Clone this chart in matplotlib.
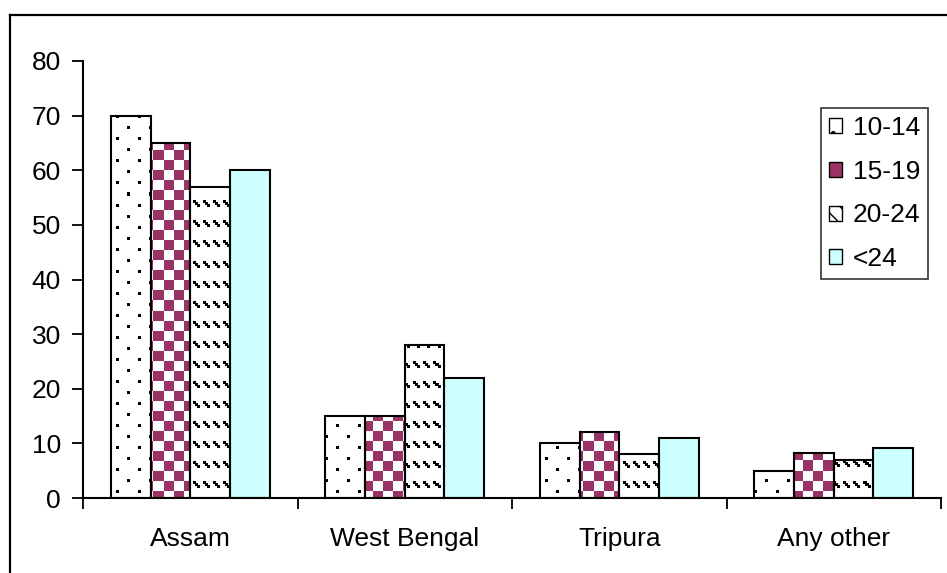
import matplotlib.pyplot as plt
import numpy as np
import matplotlib.colors as mc
from matplotlib.patches import Patch
from matplotlib.lines import Line2D

plt.rcParams['font.family'] = ['Liberation Sans', 'DejaVu Sans']

# dados
estados = ['Assam', 'West Bengal', 'Tripura', 'Any other']
faixas = ['10-14', '15-19', '20-24', '<24']
v_10_14 = [70, 15, 10, 5]
v_15_19 = [65, 15, 12, 8.3]
v_20_24 = [57, 28, 8, 7]
v_menor24 = [60, 22, 11, 9.2]
yticks = [0, 10, 20, 30, 40, 50, 60, 70, 80]

MAGENTA = '#993366'
CIANO = '#ccffff'

fig = plt.figure(figsize=(9.47, 5.73), dpi=100)
left, bottom, right, top = 83/947, 1-498/573, 941/947, 1-61/573
ax = fig.add_axes([left, bottom, right-left, top-bottom])

# tamanho do eixo em pixels, para as texturas
W = int(round((right-left)*947))
H = int(round((top-bottom)*573))

def textura(tile):
    reps = (H // tile.shape[0] + 1, W // tile.shape[1] + 1, 1)
    return np.tile(tile, reps)[:H, :W]

preto = np.array(mc.to_rgba('black'))
# pontos
t_pontos = np.zeros((22, 22, 4))
t_pontos[0:3, 0:3] = preto
t_pontos[11:14, 11:14] = preto
# xadrez
t_xadrez = np.zeros((20, 20, 4))
for r in range(20):
    for c in range(20):
        cor = MAGENTA if ((r//10) + (c//10)) % 2 == 0 else 'white'
        t_xadrez[r, c] = mc.to_rgba(cor)
# tracos diagonais
t_tracos = np.zeros((20, 10, 4))
for k in range(3):
    t_tracos[2*k:2*k+3, 2*k:2*k+3] = preto

x = np.arange(len(estados))
w = 0.185
series = [v_10_14, v_15_19, v_20_24, v_menor24]
cores = ['white', MAGENTA, 'white', CIANO]
texturas = [t_pontos, t_xadrez, t_tracos, None]

for i, (vals, cor, tex) in enumerate(zip(series, cores, texturas)):
    pos = x + (i - 1.5)*w
    barras = ax.bar(pos, vals, w, color=cor, edgecolor='none', zorder=2)
    if tex is not None:
        img = textura(tex)
        for b in barras:
            im = ax.imshow(img, extent=(-0.5, 3.5, 0, 80), interpolation='nearest',
                           aspect='auto', zorder=2.5)
            im.set_clip_path(b)
    ax.bar(pos, vals, w, fill=False, edgecolor='black', linewidth=1.5, zorder=3)

ax.set_xlim(-0.5, 3.5)
ax.set_ylim(0, 80)
ax.set_yticks(yticks)
ax.set_xticks(x)
ax.set_xticklabels(estados)
ax.set_xticks(np.arange(-0.5, 4, 1), minor=True)
ax.tick_params(axis='x', which='major', length=0, pad=21, labelsize=19)
ax.tick_params(axis='x', which='minor', length=8, width=1.3, direction='out')
ax.tick_params(axis='y', length=8, width=1.3, pad=8, labelsize=19)
for s in ['top', 'right']:
    ax.spines[s].set_visible(False)
for s in ['left', 'bottom']:
    ax.spines[s].set_linewidth(1.5)

handles = [Patch(facecolor='white', edgecolor='black', hatch='.'),
           Patch(facecolor=MAGENTA, edgecolor='black'),
           Patch(facecolor='white', edgecolor='black', hatch='\\\\'),
           Patch(facecolor=CIANO, edgecolor='black')]
leg = fig.legend(handles, faixas, loc='upper right', bbox_to_anchor=(928/947, 1-108/573),
                 fontsize=19, frameon=True, fancybox=False, edgecolor='black',
                 handlelength=0.5, handleheight=0.5, handletextpad=0.4,
                 labelspacing=0.75, borderpad=0.3, borderaxespad=0)
leg.get_frame().set_linewidth(1.2)

# moldura externa
fig.add_artist(Line2D([10/947, 10/947], [0, 1-15/573], color='black', linewidth=1.6))
fig.add_artist(Line2D([10/947, 1], [1-15/573, 1-15/573], color='black', linewidth=1.6))

plt.savefig('out.png', dpi=100)
